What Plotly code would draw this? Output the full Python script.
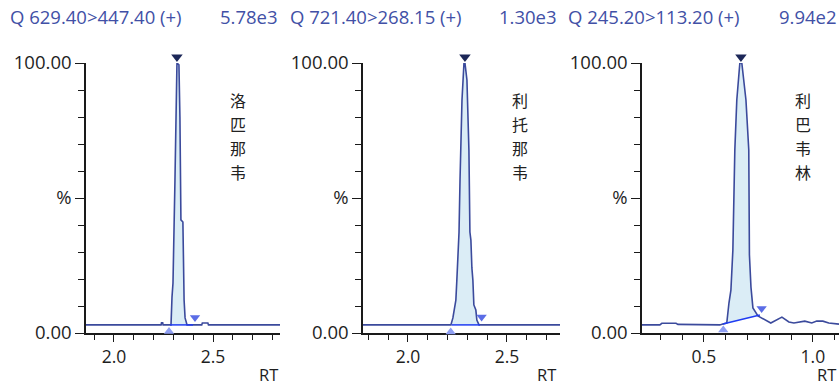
import plotly.graph_objects as go

# ---------------- data ----------------
titles = ["Q 629.40>447.40 (+)", "Q 721.40>268.15 (+)", "Q 245.20>113.20 (+)"]
scales = ["5.78e3", "1.30e3", "9.94e2"]
names = ["洛匹那韦", "利托那韦", "利巴韦林"]

rt1 = [1.859, 2.238, 2.240, 2.246, 2.248, 2.288, 2.293, 2.298, 2.308, 2.313, 2.318,
       2.328, 2.333, 2.338, 2.348, 2.354, 2.359, 2.369, 2.443, 2.446, 2.474, 2.477, 2.838]
in1 = [3.0, 3.0, 3.8, 3.8, 3.0, 3.0, 13.3, 18.5, 56.7, 78.9, 100.0,
       99.3, 80.0, 41.9, 41.1, 12.2, 5.6, 3.0, 3.0, 3.7, 3.7, 3.0, 3.0]

rt2 = [1.773, 2.217, 2.227, 2.232, 2.242, 2.247, 2.258, 2.263, 2.273, 2.283, 2.288,
       2.298, 2.308, 2.313, 2.318, 2.323, 2.328, 2.333, 2.343, 2.348, 2.359, 2.768]
in2 = [3.0, 3.0, 5.6, 7.4, 12.2, 19.6, 37.4, 56.7, 86.3, 100.0, 100.0,
       93.7, 67.8, 37.4, 34.4, 24.1, 19.6, 10.4, 8.5, 4.8, 3.0, 3.0]

rt3 = [0.216, 0.298, 0.307, 0.372, 0.381, 0.482, 0.495, 0.573, 0.587, 0.605, 0.615,
       0.624, 0.633, 0.642, 0.651, 0.665, 0.674, 0.693, 0.706, 0.709, 0.716, 0.725,
       0.748, 0.780, 0.807, 0.858, 0.890, 0.913, 0.963, 0.995, 1.018, 1.046, 1.073, 1.120]
in3 = [3.0, 3.0, 3.6, 3.6, 3.2, 3.2, 3.0, 3.0, 3.3, 3.7, 11.1,
       15.9, 30.7, 67.8, 86.3, 100.0, 100.0, 86.3, 67.8, 28.9, 17.0, 9.3,
       6.3, 4.8, 3.7, 5.9, 4.1, 3.7, 4.4, 3.7, 4.4, 4.4, 3.7, 3.3]

# peak integration: start (rt, level), end (rt, level), apex rt
bl_start = [(2.283, 3.0), (2.221, 3.0), (0.587, 3.3)]
bl_end = [(2.399, 3.0), (2.364, 3.0), (0.757, 6.7)]
apex_rt = [2.318, 2.288, 0.670]
start_mark = [(2.278, 0.6), (2.216, 0.4), (0.589, 1.1)]
end_mark = [(2.409, 5.7), (2.372, 5.9), (0.765, 9.1)]

x_ranges = [[1.859, 2.838], [1.773, 2.768], [0.216, 1.120]]

# ---------------- layout geometry ----------------
W, H = 839, 388
px_domains = [(86, 280), (363, 560), (642, 839)]
Y0_PX, Y100_PX = 333, 63
y_dom = [(H - Y0_PX) / H, (H - Y100_PX) / H]
PXPCT = (Y0_PX - Y100_PX) / 100.0
# overlay axis for the peak markers (same scale, a little taller so nothing clips)
OV_TOP, OV_BOT = 48, 346
ov_dom = [(H - OV_BOT) / H, (H - OV_TOP) / H]
ov_range = [-(OV_BOT - Y0_PX) / PXPCT, (Y0_PX - OV_TOP) / PXPCT]

FONT = "Open Sans, Liberation Sans, sans-serif"
FS = 18.5
CJK = "Noto Sans CJK SC"
TRACE = "#3b4a9c"
FILL = "#dbedf6"
BASE = "#1f3cf2"
TXT = "#1e1e1e"
TITLE = "#4150a6"

series = [(rt1, in1), (rt2, in2), (rt3, in3)]
fig = go.Figure()
annotations = []

for i, (rt, val) in enumerate(series):
    xa = "x" if i == 0 else f"x{i+1}"
    ya = "y" if i == 0 else f"y{i+1}"
    yo = f"y{i+4}"
    s, e = bl_start[i], bl_end[i]
    # fill polygon between trace and integration baseline
    fx = [s[0]] + [r for r in rt if s[0] < r < e[0]] + [e[0]]
    fy = [s[1]] + [v for r, v in zip(rt, val) if s[0] < r < e[0]] + [e[1]]
    fig.add_trace(go.Scatter(x=fx, y=fy, fill="toself", fillcolor=FILL, mode="none",
                             hoverinfo="skip", xaxis=xa, yaxis=ya, showlegend=False))
    fig.add_trace(go.Scatter(x=rt, y=val, mode="lines", line=dict(color=TRACE, width=1.6),
                             xaxis=xa, yaxis=ya, showlegend=False))
    fig.add_trace(go.Scatter(x=[s[0], e[0]], y=[s[1], e[1]], mode="lines",
                             line=dict(color=BASE, width=1.5), xaxis=xa, yaxis=ya,
                             showlegend=False))
    fig.add_trace(go.Scatter(x=[apex_rt[i]], y=[102.2], mode="markers", cliponaxis=False,
                             marker=dict(symbol="triangle-down", size=10, color="#1c2758"),
                             xaxis=xa, yaxis=yo, showlegend=False))
    fig.add_trace(go.Scatter(x=[end_mark[i][0]], y=[end_mark[i][1]], mode="markers",
                             cliponaxis=False,
                             marker=dict(symbol="triangle-down", size=9, color="#5b6de6"),
                             xaxis=xa, yaxis=yo, showlegend=False))
    fig.add_trace(go.Scatter(x=[start_mark[i][0]], y=[start_mark[i][1]], mode="markers",
                             cliponaxis=False,
                             marker=dict(symbol="triangle-up", size=9, color="#8e9ef2"),
                             xaxis=xa, yaxis=yo, showlegend=False))

    x0, x1 = px_domains[i]
    xkey = "xaxis" if i == 0 else f"xaxis{i+1}"
    ykey = "yaxis" if i == 0 else f"yaxis{i+1}"
    okey = f"yaxis{i+4}"
    fig.update_layout(**{
        xkey: dict(domain=[x0 / W, x1 / W], range=x_ranges[i], anchor=ya,
                   automargin=False,
                   showgrid=False, zeroline=False, showline=True, linecolor="#1a1a1a",
                   linewidth=1.5, ticks="outside", ticklen=7, tickwidth=1.3,
                   tickcolor="#1a1a1a", dtick=0.5, tick0=0, tickformat=".1f",
                   tickfont=dict(family=FONT, size=17.5, color=TXT),
                   minor=dict(dtick=0.1, tick0=0, ticks="outside", ticklen=5,
                              tickwidth=1.3, tickcolor="#1a1a1a")),
        ykey: dict(domain=y_dom, range=[0, 100], anchor=xa, showgrid=False,
                   automargin=False,
                   zeroline=False, showline=True, linecolor="#1a1a1a", linewidth=1.5,
                   ticks="outside", ticklen=9, tickwidth=1.3, tickcolor="#1a1a1a",
                   tickmode="array", tickvals=[0, 50, 100],
                   ticktext=["0.00", "%", "100.00"],
                   tickfont=dict(family=FONT, size=FS, color=TXT),
                   minor=dict(dtick=10, tick0=0, ticks="outside", ticklen=6,
                              tickwidth=1.3, tickcolor="#1a1a1a")),
        okey: dict(domain=ov_dom, range=ov_range, anchor=xa, visible=False,
                   showgrid=False, zeroline=False, automargin=False, fixedrange=True),
    })

    # titles
    title_left = [8, 288, 566][i]
    annotations.append(dict(x=title_left / W, y=1 - 17 / H, xref="paper", yref="paper",
                            text=titles[i], showarrow=False, xanchor="left",
                            yanchor="middle",
                            font=dict(family=FONT, size=FS, color=TITLE)))
    annotations.append(dict(x=[280, 559, 839][i] / W, y=1 - 17 / H, xref="paper",
                            yref="paper", text=scales[i], showarrow=False,
                            xanchor="right", yanchor="middle",
                            font=dict(family=FONT, size=FS, color=TITLE)))
    # RT label
    annotations.append(dict(x=[280, 558, 838][i] / W, y=0, xref="paper",
                            yref="paper", text="RT", showarrow=False, xanchor="right",
                            yanchor="bottom",
                            font=dict(family=FONT, size=16.5, color=TXT)))
    # vertical compound name, one character per line
    cx = [238, 520, 803][i]
    for k, ch in enumerate(names[i]):
        annotations.append(dict(x=cx / W, y=1 - (100 + 24 * k) / H, xref="paper",
                                yref="paper", text=ch, showarrow=False,
                                xanchor="center", yanchor="middle",
                                font=dict(family=CJK, size=16, color="#222222")))

fig.update_layout(width=W, height=H, margin=dict(l=0, r=0, t=0, b=0, autoexpand=False),
                  paper_bgcolor="white", plot_bgcolor="rgba(0,0,0,0)",
                  annotations=annotations, showlegend=False)

fig.write_html("out.html", config={"displayModeBar": False},
               post_script="document.body.style.margin='0';document.body.style.padding='0';")
